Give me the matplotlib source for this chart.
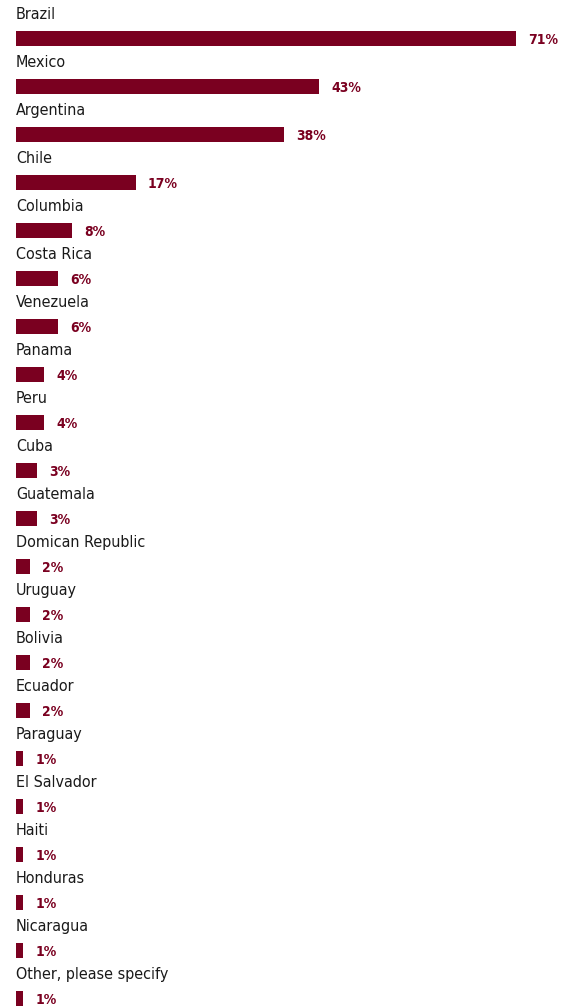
import matplotlib
matplotlib.use('Agg')
import matplotlib.pyplot as plt

# Survey responses by country
countries = ['Brazil', 'Mexico', 'Argentina', 'Chile', 'Columbia', 'Costa Rica',
             'Venezuela', 'Panama', 'Peru', 'Cuba', 'Guatemala', 'Domican Republic',
             'Uruguay', 'Bolivia', 'Ecuador', 'Paraguay', 'El Salvador', 'Haiti',
             'Honduras', 'Nicaragua', 'Other, please specify']
percent = [71, 43, 38, 17, 8, 6, 6, 4, 4, 3, 3, 2, 2, 2, 2, 1, 1, 1, 1, 1, 1]

bar_color = '#7a0020'

fig = plt.figure(figsize=(5.73, 10.07), dpi=100)
ax = fig.add_axes([0, 0, 1, 1])

ypos = list(range(len(countries)))
ax.barh(ypos, percent, height=0.31, color=bar_color)

for i, (name, p) in enumerate(zip(countries, percent)):
    ax.text(0, i - 0.49, name, ha='left', va='center', fontsize=11.5,
            color='#1a1a1a', family='DejaVu Sans', fontstretch='condensed')
    ax.text(p + 1.75, i + 0.03, f'{p}%', ha='left', va='center', fontsize=10,
            fontweight='bold', color=bar_color, family='DejaVu Sans',
            fontstretch='condensed')

ax.set_xlim(-2.272, 79.1)
ax.set_ylim(20.18, -0.802)
ax.axis('off')

fig.savefig('out.png', dpi=100)
